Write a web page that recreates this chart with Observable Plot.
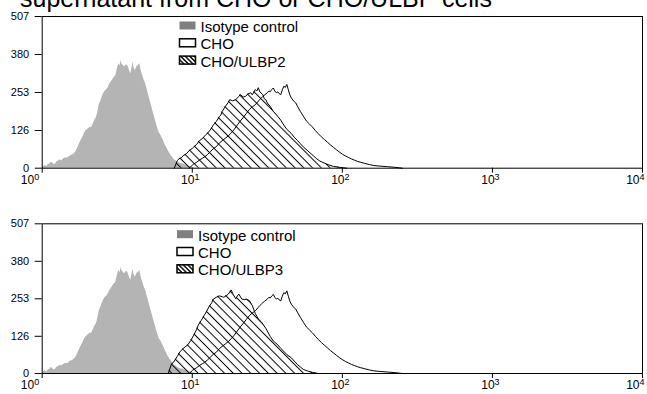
<!DOCTYPE html>
<html><head><meta charset="utf-8">
<script src="https://cdn.jsdelivr.net/npm/d3@7"></script>
<script src="https://cdn.jsdelivr.net/npm/@observablehq/plot@0.6"></script>
<style>
body{margin:0;background:#fff;font-family:"Liberation Sans",Arial,sans-serif;}
#wrap{position:relative;width:647px;height:394px;overflow:hidden;background:#fff;}
#title{position:absolute;z-index:5;left:20px;top:-14.2px;font-size:25px;line-height:25px;white-space:nowrap;color:#000;}
.panel{position:absolute;left:0;z-index:1;}
</style></head><body>
<div id="wrap">
<div id="p1" class="panel" style="top:0px"></div>
<div id="p2" class="panel" style="top:197px"></div>
<div id="title">supernatant from CHO or CHO/ULBP cells</div>
</div>
<script>
// ---- data (x given as log10 fluorescence, y = cell counts) ----
const xTicks = [1, 10, 100, 1000, 10000];
const xTickExp = ["0", "1", "2", "3", "4"];
const yTicks = [0, 126, 253, 380, 507];

const isoExp = [0.00,0.01,0.02,0.03,0.04,0.05,0.06,0.07,0.08,0.09,0.10,0.11,0.12,0.13,0.14,0.15,0.16,0.17,0.18,0.19,0.20,0.21,0.22,0.23,0.24,0.25,0.26,0.27,0.28,0.29,0.30,0.31,0.32,0.33,0.34,0.35,0.36,0.37,0.38,0.39,0.40,0.41,0.42,0.43,0.44,0.45,0.46,0.47,0.48,0.49,0.50,0.51,0.52,0.525,0.53,0.54,0.55,0.56,0.57,0.58,0.59,0.60,0.605,0.61,0.62,0.63,0.64,0.65,0.66,0.67,0.68,0.69,0.70,0.71,0.72,0.73,0.74,0.75,0.76,0.77,0.78,0.79,0.80,0.81,0.82,0.83,0.84,0.85,0.86,0.87,0.88,0.89,0.90,0.92,0.94,0.96,0.98,1.00,1.02];
const isoCount = [0,6,9,5,12,14,20,17,12,15,22,24,28,25,30,33,35,34,38,42,43,47,52,60,72,83,94,103,115,124,128,133,136,137,148,160,168,185,212,224,238,250,258,262,270,281,288,296,303,309,330,349,342,360,350,343,338,346,343,328,315,340,355,338,326,338,343,349,325,309,292,281,262,243,224,205,186,168,150,133,118,111,100,90,77,68,58,49,42,36,28,25,21,16,14,9,6,3,0];

const choExp = [0.98,1.00,1.01,1.03,1.05,1.07,1.08,1.10,1.12,1.14,1.16,1.18,1.20,1.22,1.24,1.26,1.28,1.30,1.32,1.34,1.36,1.38,1.40,1.42,1.43,1.44,1.45,1.46,1.47,1.48,1.50,1.51,1.52,1.53,1.54,1.55,1.56,1.57,1.58,1.59,1.60,1.61,1.62,1.63,1.64,1.65,1.66,1.67,1.68,1.69,1.70,1.72,1.74,1.76,1.78,1.80,1.82,1.84,1.86,1.88,1.90,1.92,1.94,1.96,1.98,2.00,2.02,2.04,2.06,2.08,2.10,2.12,2.15,2.18,2.21,2.25,2.30,2.35,2.40];
const choCount = [0,10,14,20,28,34,37,45,55,65,72,84,92,100,108,118,130,144,158,170,183,196,205,212,218,224,230,235,240,244,252,258,256,263,268,258,252,255,249,246,262,274,270,280,262,245,235,228,222,218,208,190,174,158,148,138,126,115,105,96,87,78,70,62,54,47,41,36,31,27,23,20,16,12,9,7,5,3,0];

const ulbp2Exp = [0.88,0.90,0.91,0.93,0.94,0.96,0.98,1.00,1.01,1.03,1.05,1.07,1.09,1.10,1.12,1.14,1.16,1.18,1.19,1.20,1.22,1.24,1.25,1.27,1.29,1.31,1.32,1.34,1.355,1.37,1.39,1.40,1.42,1.43,1.44,1.45,1.47,1.48,1.49,1.50,1.52,1.54,1.57,1.59,1.61,1.63,1.66,1.68,1.70,1.72,1.74,1.77,1.79,1.81,1.83,1.85,1.88,1.91,1.94,1.98,2.03];
const ulbp2Count = [0,25,31,36,42,48,59,66,71,80,93,100,112,116,128,144,156,172,178,190,206,220,229,225,229,240,246,238,240,248,252,245,263,258,269,255,246,232,229,218,206,190,173,160,144,130,116,103,93,82,71,58,49,40,31,24,17,11,6,3,0];

const ulbp3Exp = [0.84,0.86,0.88,0.90,0.92,0.94,0.97,0.99,1.01,1.03,1.04,1.06,1.08,1.10,1.11,1.13,1.14,1.16,1.18,1.20,1.21,1.23,1.24,1.26,1.27,1.29,1.30,1.31,1.33,1.35,1.36,1.38,1.40,1.42,1.44,1.46,1.49,1.52,1.54,1.57,1.59,1.61,1.63,1.66,1.68,1.70,1.72,1.74,1.77,1.80,1.84];
const ulbp3Count = [0,30,42,58,75,85,97,112,130,150,164,180,197,215,225,240,252,258,263,260,258,265,269,283,270,253,262,269,252,250,252,247,230,203,185,175,153,125,110,97,85,75,64,53,42,31,22,14,8,4,0];

const legend1 = ["Isotype control", "CHO", "CHO/ULBP2"];
const legend2 = ["Isotype control", "CHO", "CHO/ULBP3"];

const FONT = '"Liberation Sans", Arial, sans-serif';

function toRows(ex, cn) { return ex.map((e, i) => ({x: Math.pow(10, e), y: cn[i]})); }

function panel(el, id, hatchExp, hatchCount, labels, mt, mb, lx, ly) {
  const iso = toRows(isoExp, isoCount);
  const cho = toRows(choExp, choCount);
  const hat = toRows(hatchExp, hatchCount);
  const chart = Plot.plot({
    width: 647, height: 197,
    marginLeft: 41.7, marginRight: 5, marginTop: mt, marginBottom: mb,
    style: {fontFamily: FONT, fontSize: "11px", background: "transparent", color: "black", overflow: "visible"},
    x: {type: "log", domain: [1, 10000], label: null},
    y: {domain: [0, 507], label: null},
    marks: [
      Plot.areaY(iso, {x: "x", y: "y", fill: "#b4b4b4"}),
      Plot.areaY(hat, {x: "x", y: "y", fill: `url(#${id})`}),
      Plot.lineY(hat, {x: "x", y: "y", stroke: "black", strokeWidth: 1}),
      Plot.lineY(cho, {x: "x", y: "y", stroke: "black", strokeWidth: 1}),
      Plot.axisY({ticks: yTicks, tickSize: 7, tickPadding: 6, tickFormat: d => String(d), label: null, fontSize: 11}),
      Plot.axisX({ticks: xTicks, tickSize: 5, tickPadding: 2, tickFormat: d => xTickExp[xTicks.indexOf(d)], label: null, fontSize: 12}),
      Plot.frame({stroke: "black", strokeWidth: 1})
    ]
  });
  const svg = d3.select(chart);
  const defs = svg.append("defs");
  const p = defs.append("pattern").attr("id", id).attr("patternUnits", "userSpaceOnUse")
    .attr("width", 6.2).attr("height", 6.2).attr("patternTransform", "rotate(-45)");
  p.append("rect").attr("x", 2.6).attr("y", 0).attr("width", 1).attr("height", 6.2).attr("fill", "black");
  const pl = defs.append("pattern").attr("id", id + "L").attr("patternUnits", "userSpaceOnUse")
    .attr("width", 3.2).attr("height", 3.2).attr("patternTransform", "rotate(-45)");
  pl.append("rect").attr("width", 3.2).attr("height", 3.2).attr("fill", "white");
  pl.append("rect").attr("x", 0.9).attr("y", 0).attr("width", 1.4).attr("height", 3.2).attr("fill", "black");

  // superscript tick labels
  svg.selectAll('g[aria-label="x-axis tick label"] text').each(function() {
    const t = d3.select(this);
    const exp = t.text();
    t.text("10");
    t.append("tspan").attr("dy", "-0.42em").attr("font-size", "9px").text(exp);
    const k = xTickExp.indexOf(exp);
    if (k === 0) t.attr("text-anchor", "end").attr("dx", -3);
    else if (k === xTickExp.length - 1) t.attr("text-anchor", "end").attr("dx", 2);
    else t.attr("dx", -2);
  });

  // legend
  const g = svg.append("g").attr("font-family", FONT).attr("font-size", 15).attr("text-anchor", "start");
  labels.forEach((lab, i) => {
    const by = ly + i * 17.3;
    const r = g.append("rect").attr("x", lx).attr("y", by - 10.5).attr("width", 16).attr("height", 8);
    if (i === 0) r.attr("fill", "#808080");
    else if (i === 1) r.attr("fill", "white").attr("stroke", "black").attr("stroke-width", 1.5);
    else r.attr("fill", `url(#${id}L)`).attr("stroke", "black").attr("stroke-width", 1.5);
    g.append("text").attr("x", lx + 21).attr("y", by).attr("text-anchor", "start").text(lab);
  });
  document.getElementById(el).appendChild(chart);
}

panel("p1", "hatch1", ulbp2Exp, ulbp2Count, legend1, 16, 29.3, 179.5, 32);
panel("p2", "hatch2", ulbp3Exp, ulbp3Count, legend2, 26.3, 21, 177, 43.7);
</script>
</body></html>
